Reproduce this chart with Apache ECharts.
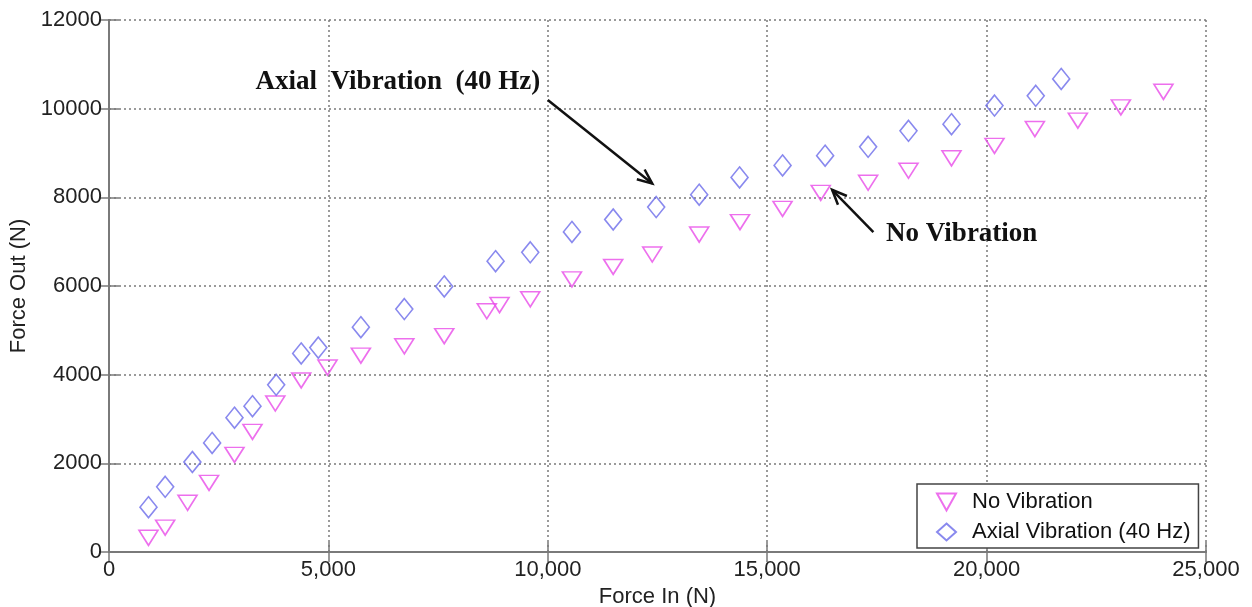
<!DOCTYPE html>
<html>
<head>
<meta charset="utf-8">
<script src="https://cdn.jsdelivr.net/npm/echarts@6/dist/echarts.min.js"></script>
<style>
html, body { margin: 0; padding: 0; background: #fff; }
#main { width: 1252px; height: 607px; }
</style>
</head>
<body>
<div id="main"></div>
<script>
// values (N)
var noVibIn  = [900, 1280, 1790, 2280, 2860, 3270, 3790, 4380, 4980, 5740, 6730, 7640, 8610, 8900, 9600,
                10550, 11490, 12380, 13450, 14380, 15350, 16220, 17300, 18220, 19200, 20180, 21100, 22080, 23060, 24030];
var noVibOut = [320, 550, 1110, 1560, 2190, 2710, 3350, 3870, 4160, 4430, 4640, 4870, 5430, 5570, 5700,
                6150, 6430, 6710, 7160, 7440, 7740, 8100, 8330, 8600, 8880, 9160, 9540, 9730, 10030, 10380];

var axialIn  = [900, 1280, 1900, 2350, 2860, 3270, 3810, 4380, 4770, 5740, 6730, 7640, 8810, 9600,
                10550, 11490, 12470, 13450, 14370, 15350, 16320, 17300, 18220, 19200, 20180, 21120, 21700];
var axialOut = [1010, 1470, 2030, 2460, 3030, 3290, 3770, 4480, 4610, 5070, 5480, 5990, 6560, 6760,
                7220, 7500, 7780, 8060, 8450, 8720, 8940, 9140, 9500, 9650, 10070, 10290, 10670];

var xMax = 25000, xStep = 5000;
var yMax = 12000, yStep = 2000;

// annotation arrows: [startX, startY, endX, endY] in data units
var arrowAxial = [10000, 10195, 12380, 8310];
var arrowNoVib = [17420, 7215, 16480, 8170];

function zip(a, b) {
    var out = [];
    for (var i = 0; i < a.length; i++) out.push([a[i], b[i]]);
    return out;
}

var axisGray = '#7a7a7a';
var font = 'Arial, "Liberation Sans", sans-serif';
var serif = '"Times New Roman", "Liberation Serif", serif';
var pink = '#e94be9', blue = '#6b6bea';

var chart = echarts.init(document.getElementById('main'), null, {renderer: 'canvas'});

var frameAxis = {
    axisLine: {show: true, lineStyle: {color: axisGray, width: 2}},
    axisTick: {show: true, inside: true, length: 10, lineStyle: {color: axisGray, width: 1.5}},
    axisLabel: {show: false},
    splitLine: {show: false}
};
var gridDots = {show: true, lineStyle: {type: [2, 3], color: '#7a7a7a', width: 1.5}};

chart.setOption({
    animation: false,
    backgroundColor: '#fff',
    grid: {left: 109, right: 46, top: 20, bottom: 55, containLabel: false, outerBoundsMode: 'none'},
    xAxis: [
        {
            type: 'value', min: 0, max: xMax, interval: xStep, position: 'bottom',
            name: 'Force In (N)', nameLocation: 'middle', nameGap: 33,
            nameTextStyle: {fontSize: 22, fontFamily: font, color: '#222'},
            axisLine: {show: true, onZero: false, lineStyle: {color: axisGray, width: 2}},
            axisTick: {show: true, inside: true, length: 10, lineStyle: {color: axisGray, width: 1.5}},
            axisLabel: {fontSize: 22, fontFamily: font, color: '#222', margin: 7,
                formatter: function (v) { return v.toLocaleString('en-US'); }},
            splitLine: gridDots
        },
        Object.assign({type: 'value', min: 0, max: xMax, interval: xStep, position: 'top'}, frameAxis)
    ],
    yAxis: [
        {
            type: 'value', min: 0, max: yMax, interval: yStep, position: 'left',
            name: 'Force Out (N)', nameLocation: 'middle', nameGap: 71,
            nameTextStyle: {fontSize: 22, fontFamily: font, color: '#222'},
            axisLine: {show: true, onZero: false, lineStyle: {color: axisGray, width: 2}},
            axisTick: {show: true, inside: true, length: 10, lineStyle: {color: axisGray, width: 1.5}},
            axisLabel: {fontSize: 22, fontFamily: font, color: '#222', margin: 7,
                formatter: function (v) { return String(v); }},
            splitLine: gridDots
        },
        Object.assign({type: 'value', min: 0, max: yMax, interval: yStep, position: 'right'}, frameAxis)
    ],
    legend: {
        orient: 'vertical', left: 917, top: 484,
        padding: [7, 8, 5, 19], itemGap: 8, itemWidth: 19, itemHeight: 17,
        symbolKeepAspect: false,
        backgroundColor: '#fff', borderColor: '#444', borderWidth: 1.5, borderRadius: 0,
        textStyle: {fontSize: 22, fontFamily: font, color: '#111', padding: [0, 0, 0, 11]},
        data: [
            {name: 'No Vibration', icon: 'path://M0,0 L20,0 L10,16 Z'},
            {name: 'Axial Vibration (40 Hz)', icon: 'path://M9,0 L18,9 L9,18 L0,9 Z'}
        ]
    },
    series: [
        {
            name: 'No Vibration', type: 'scatter', xAxisIndex: 0, yAxisIndex: 0,
            symbol: 'triangle', symbolRotate: 180, symbolSize: [19, 15],
            itemStyle: {color: 'transparent', borderColor: pink, borderWidth: 1.6},
            data: zip(noVibIn, noVibOut)
        },
        {
            name: 'Axial Vibration (40 Hz)', type: 'scatter', xAxisIndex: 0, yAxisIndex: 0,
            symbol: 'diamond', symbolSize: [17, 21],
            itemStyle: {color: 'transparent', borderColor: blue, borderWidth: 1.6},
            data: zip(axialIn, axialOut)
        }
    ]
});

// annotations placed from data coordinates
function arrowGraphics(a) {
    var s = chart.convertToPixel({seriesIndex: 0}, [a[0], a[1]]);
    var e = chart.convertToPixel({seriesIndex: 0}, [a[2], a[3]]);
    var ang = Math.atan2(e[1] - s[1], e[0] - s[0]);
    var L = 16, spread = 0.4;
    var style = {stroke: '#111', lineWidth: 2.5};
    return [
        {type: 'line', shape: {x1: s[0], y1: s[1], x2: e[0], y2: e[1]}, style: style},
        {type: 'polyline', shape: {points: [
            [e[0] - L * Math.cos(ang - spread), e[1] - L * Math.sin(ang - spread)],
            [e[0], e[1]],
            [e[0] - L * Math.cos(ang + spread), e[1] - L * Math.sin(ang + spread)]
        ]}, style: style}
    ];
}

var p1 = chart.convertToPixel({seriesIndex: 0}, [9830, 10610]);
var p2 = chart.convertToPixel({seriesIndex: 0}, [17710, 7180]);

chart.setOption({
    graphic: arrowGraphics(arrowAxial).concat(arrowGraphics(arrowNoVib)).concat([
        {type: 'text', x: p1[0], y: p1[1], style: {
            text: 'Axial  Vibration  (40 Hz)', font: 'bold 27px ' + serif, fill: '#111',
            align: 'right', verticalAlign: 'middle', textAlign: 'right', textVerticalAlign: 'middle'}},
        {type: 'text', x: p2[0], y: p2[1], style: {
            text: 'No Vibration', font: 'bold 27px ' + serif, fill: '#111',
            align: 'left', verticalAlign: 'middle', textAlign: 'left', textVerticalAlign: 'middle'}}
    ])
});
</script>
</body>
</html>
